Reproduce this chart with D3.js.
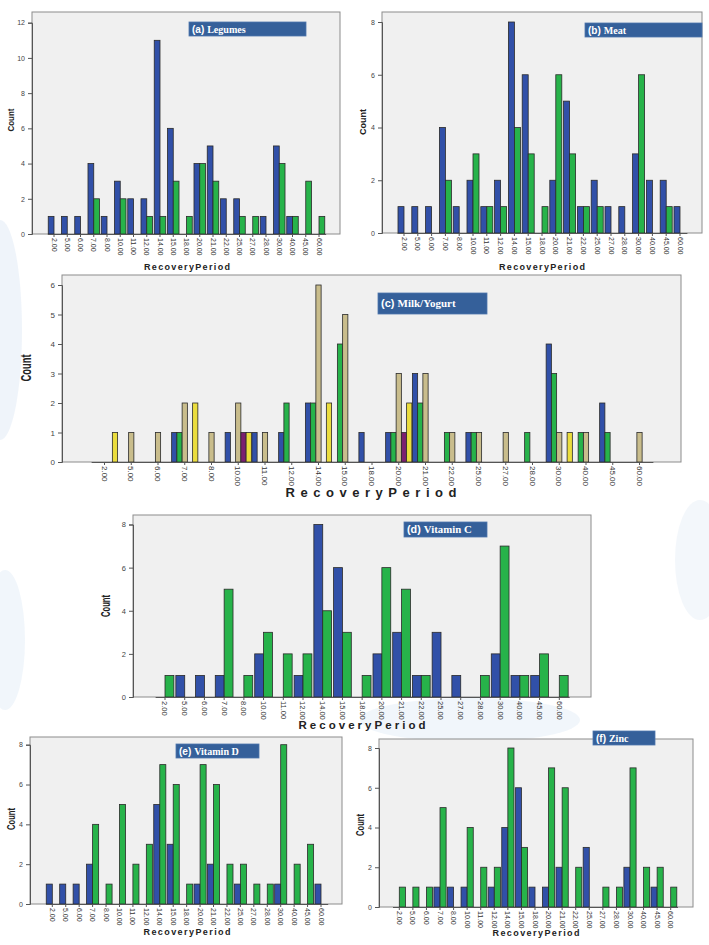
<!DOCTYPE html>
<html><head><meta charset="utf-8">
<script src="https://cdn.jsdelivr.net/npm/d3@7"></script>
<style>body{margin:0;background:#fff;} svg{display:block}</style>
</head><body><svg id="c" width="709" height="945"></svg>
<script>
// ---------- DATA ----------
const categories = [2,5,6,7,8,10,11,12,14,15,18,20,21,22,25,27,28,30,40,45,60];
const countTicks8 = [0,2,4,6,8];
const countTicks12 = [0,2,4,6,8,10,12];
const countTicks6 = [0,1,2,3,4,5,6];

const legumesBlue  = [1,1,1,4,1,3,2,2,11,6,0,4,5,2,2,0,1,5,1,0,0];
const legumesGreen = [0,0,0,2,0,2,0,1,1,3,1,4,3,0,1,1,0,4,1,3,1];

const meatBlue  = [1,1,1,4,1,2,1,2,8,6,0,2,5,1,2,1,1,3,2,2,1];
const meatGreen = [0,0,0,2,0,3,1,1,4,3,1,6,3,1,1,0,0,6,0,1,0];

const milkBlue   = [0,0,0,1,0,1,1,1,2,0,1,1,3,0,1,0,0,4,0,2,0];
const milkGreen  = [0,0,0,1,0,0,0,2,2,4,0,1,2,1,1,0,1,3,1,1,0];
const milkTan    = [0,1,1,2,1,2,1,0,6,5,0,3,3,1,1,1,0,1,1,0,1];
const milkPurple = [0,0,0,0,0,1,0,0,0,0,0,1,0,0,0,0,0,0,0,0,0];
const milkYellow = [1,0,0,2,0,1,0,0,2,0,0,2,0,0,0,0,0,1,0,0,0];

const vitCBlue  = [0,1,1,1,0,2,0,1,8,6,0,2,3,1,3,1,0,2,1,1,0];
const vitCGreen = [1,0,0,5,1,3,2,2,4,3,1,6,5,1,0,0,1,7,1,2,1];

const vitDBlue  = [1,1,1,2,0,0,0,0,5,3,0,1,2,0,1,0,0,1,0,0,1];
const vitDGreen = [0,0,0,4,1,5,2,3,7,6,1,7,6,2,2,1,1,8,2,3,0];

const zincBlue  = [0,0,0,1,1,1,0,1,4,6,1,1,2,0,3,0,0,2,0,1,0];
const zincGreen = [1,1,1,5,0,4,2,2,8,3,0,7,6,2,0,1,1,7,2,2,1];

const titles = ["(a) Legumes","(b) Meat","(c) Milk/Yogurt","(d) Vitamin C","(e) Vitamin D","(f) Zinc"];
const xTitle = "RecoveryPeriod";
const yTitle = "Count";

// ---------- STYLE ----------
const BLUE="#3150a8", GREEN="#27b34a", TAN="#c9bd8c", PURPLE="#7a1f70", YELLOW="#ebdd3e";
const svg = d3.select("#c");

// pale watermark blobs
const wm = svg.append("g").attr("fill","#e8f0f8");
[[0,330,22,110,0.7],[5,640,20,70,0.6],[470,720,110,22,0.6],[700,560,25,60,0.5]].forEach(d=>{
  wm.append("ellipse").attr("cx",d[0]).attr("cy",d[1]).attr("rx",d[2]).attr("ry",d[3]).attr("opacity",d[4]);
});

const panels = [
 {series:[legumesBlue,legumesGreen], colors:[BLUE,GREEN], frame:[32,12,340,234], yTop:22.7, yMax:12, ticks:countTicks12,
  c0:54, c1:319, pad:0.13, title:titles[0], box:[189,22,117,14],
  xt:{x:187,y:270,len:86,fs:9}, yt:{x:14,y:120,len:23,fs:9.5}, tickFs:7},
 {series:[meatBlue,meatGreen], colors:[BLUE,GREEN], frame:[382,12,702,233], yTop:22, yMax:8, ticks:countTicks8,
  c0:404, c1:680, pad:0.13, title:titles[1], box:[585,23,117,14],
  xt:{x:542,y:270,len:86,fs:9}, yt:{x:366,y:122,len:26,fs:9.5}, tickFs:7},
 {series:[milkBlue,milkGreen,milkTan,milkPurple,milkYellow], colors:[BLUE,GREEN,TAN,PURPLE,YELLOW], frame:[62,275,681,462], yTop:285, yMax:6, ticks:countTicks6,
  c0:104.5, c1:639.5, pad:0.02, title:titles[2], box:[378,293,109,21],
  xt:{x:371,y:497,len:171,fs:13}, yt:{x:31,y:368,len:27,fs:14}, tickFs:8},
 {series:[vitCBlue,vitCGreen], colors:[BLUE,GREEN], frame:[133,515,591,697], yTop:524.5, yMax:8, ticks:countTicks8,
  c0:165, c1:559.3, pad:0.1, title:titles[3], box:[404,522,83,15],
  xt:{x:362,y:729,len:127,fs:11.5}, yt:{x:110,y:606,len:22,fs:12}, tickFs:7.5},
 {series:[vitDBlue,vitDGreen], colors:[BLUE,GREEN], frame:[30,737,342,904], yTop:744.7, yMax:8, ticks:countTicks8,
  c0:52.3, c1:321, pad:0.1, title:titles[4], box:[176,744,83,14],
  xt:{x:187,y:935,len:87,fs:9}, yt:{x:15,y:819,len:22,fs:10}, tickFs:7},
 {series:[zincBlue,zincGreen], colors:[BLUE,GREEN], frame:[379,739,693,907], yTop:748, yMax:8, ticks:countTicks8,
  c0:399.3, c1:670.7, pad:0.1, title:titles[5], box:[593,731,62,14],
  xt:{x:536,y:936,len:87,fs:9}, yt:{x:364,y:825,len:22,fs:10}, tickFs:7}
];

panels.forEach(p=>{
  const g = svg.append("g");
  const [fx0,fy0,fx1,fy1] = p.frame;
  g.append("rect").attr("x",fx0).attr("y",fy0).attr("width",fx1-fx0).attr("height",fy1-fy0)
    .attr("fill","#f0f0f0").attr("stroke","#8c8c8c").attr("stroke-width",1);

  const step = (p.c1-p.c0)/(categories.length-1);
  const x = d3.scaleBand().domain(categories).range([p.c0-step/2, p.c1+step/2]).padding(0);
  const inner = step*(1-p.pad);
  const xs = d3.scaleBand().domain(d3.range(p.series.length)).range([0, inner]).padding(0);
  const y = d3.scaleLinear().domain([0,p.yMax]).range([fy1, p.yTop]);

  p.series.forEach((vals,si)=>{
    g.append("g").selectAll("rect").data(vals.map((v,i)=>({c:categories[i],v})).filter(d=>d.v>0))
      .join("rect")
      .attr("x",d=>x(d.c)+step*p.pad/2+xs(si))
      .attr("y",d=>y(d.v))
      .attr("width",xs.bandwidth())
      .attr("height",d=>y(0)-y(d.v))
      .attr("fill",p.colors[si]).attr("stroke","#2a2a2a").attr("stroke-width",0.8);
  });

  // y axis
  const ya = g.append("g").attr("transform",`translate(${fx0},0)`)
    .call(d3.axisLeft(y).tickValues(p.ticks).tickSize(4).tickPadding(3).tickFormat(d3.format("d")));
  ya.select(".domain").attr("stroke","#555");
  ya.selectAll(".tick line").attr("stroke","#555");
  ya.selectAll("text").attr("font-family","Liberation Sans, Arial, sans-serif").attr("font-size",p.tickFs).attr("fill","#444");

  // x axis
  const xa = g.append("g").attr("transform",`translate(0,${fy1})`)
    .call(d3.axisBottom(x).tickSize(3).tickSizeOuter(0).tickFormat(d=>d3.format(".2f")(d)));
  xa.select(".domain").attr("stroke","#555");
  xa.selectAll(".tick line").attr("stroke","#555");
  xa.selectAll("text").attr("font-family","Liberation Sans Narrow, Liberation Sans, Arial, sans-serif")
    .attr("font-size",p.tickFs).attr("fill","#333")
    .attr("transform","rotate(90)").attr("text-anchor","start")
    .attr("x",4).attr("y",0).attr("dy","0.35em");

  // axis titles
  g.append("text").attr("x",p.xt.x).attr("y",p.xt.y).attr("text-anchor","middle")
    .attr("font-family","Liberation Sans, Arial, sans-serif").attr("font-weight","bold")
    .attr("font-size",p.xt.fs).attr("fill","#222")
    .attr("textLength",p.xt.len).attr("lengthAdjust","spacing").text(xTitle);
  g.append("text").attr("transform",`translate(${p.yt.x},${p.yt.y}) rotate(-90)`).attr("text-anchor","middle")
    .attr("font-family","Liberation Sans Narrow, Liberation Sans, Arial, sans-serif").attr("font-weight","bold")
    .attr("font-size",p.yt.fs).attr("fill","#222")
    .attr("textLength",p.yt.len).attr("lengthAdjust","spacingAndGlyphs").text(yTitle);

  // title box
  const [bx,by,bw,bh] = p.box;
  g.append("rect").attr("x",bx).attr("y",by).attr("width",bw).attr("height",bh)
    .attr("fill","#35609a").attr("stroke","#4f77ad").attr("stroke-width",0.8);
  const t = g.append("text").attr("x",bx+3).attr("y",by+bh/2).attr("dy","0.35em")
    .attr("fill","#fff").attr("font-weight","bold").attr("font-size",Math.min(11,bh*0.72));
  const parts = p.title.split(" ");
  t.append("tspan").attr("font-family","Liberation Sans, Arial, sans-serif").text(parts[0]+" ");
  t.append("tspan").attr("font-family","Liberation Serif, Times New Roman, serif").text(parts.slice(1).join(" "));
});
</script></body></html>
